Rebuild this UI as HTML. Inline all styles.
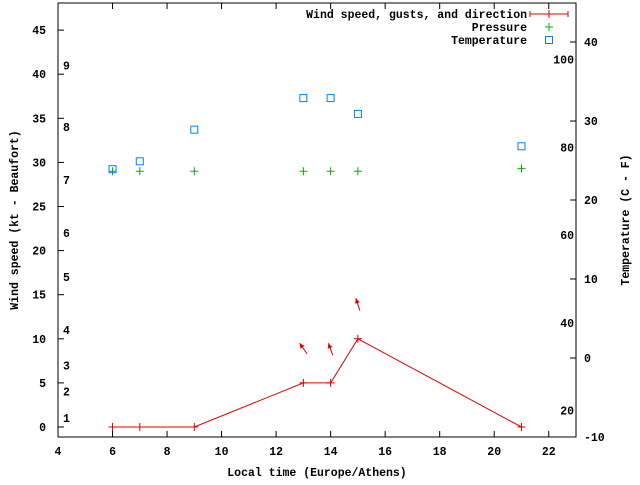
<!DOCTYPE html>
<html><head><meta charset="utf-8"><style>
body{margin:0;background:#fff}
svg text{font-family:"Liberation Mono","DejaVu Sans Mono",monospace;font-size:11.5px;font-weight:bold;fill:#000}
</style></head><body>
<svg id="c" width="640" height="480" viewBox="0 0 640 480" xmlns="http://www.w3.org/2000/svg"></svg>
<script>
const hours=[6,7,9,13,14,15,21];
const wind=[0,0,0,5,5,10,0];
const pressure=[29,29,29,29,29,29,29.3];
const temperature=[23.9,24.9,28.9,32.9,32.9,30.9,26.8];
const gustHours=[13,14,15];
const gusts=[9.5,9.5,14.6];
const gustDir=[35,20,18];
const xTicks=[4,6,8,10,12,14,16,18,20,22];
const yTicks=[0,5,10,15,20,25,30,35,40,45];
const tTicks=[-10,0,10,20,30,40];
const fTicks=[20,40,60,80,100];
const bftLabels=["1","2","3","4","5","6","7","8","9"];
const bftKt=[1,4,7,11,17,22,28,34,41];

const L=58,R=576,T=3,B=437;
const X=h=>L+(h-4)*(R-L)/19;
const Y=v=>427-v*8.82;
const TY=c=>B-(c+10)*7.9;
const svg=document.getElementById('c');
const NS='http://www.w3.org/2000/svg';
function mk(tag,a,parent){const e=document.createElementNS(NS,tag);for(const k in a)e.setAttribute(k,a[k]);(parent||svg).appendChild(e);return e;}

const border=mk('rect',{x:L,y:T,width:R-L,height:B-T,fill:'none',stroke:'#000','stroke-width':1});



xTicks.forEach(v=>{
 const t=mk('line',{x1:X(v),x2:X(v),y1:B,y2:B-6,stroke:'#000'});
 
 
 mk('line',{x1:X(v),x2:X(v),y1:T,y2:T+6,stroke:'#000'});
 const l=mk('text',{x:X(v),y:B+18,'text-anchor':'middle'});l.textContent=v;
 
 
});
yTicks.forEach(v=>{
 const t=mk('line',{x1:L,x2:L+6,y1:Y(v),y2:Y(v),stroke:'#000'});
 
 
 const l=mk('text',{x:L-12,y:Y(v)+4,'text-anchor':'end'});l.textContent=v;
 
 
});
tTicks.forEach(v=>{
 const t=mk('line',{x1:R-6,x2:R,y1:TY(v),y2:TY(v),stroke:'#000'});
 
 
 const l=mk('text',{x:R+8,y:TY(v)+4});l.textContent=v;
 
 
});
fTicks.forEach(v=>{
 const l=mk('text',{x:574,y:TY((v-32)/1.8)+4,'text-anchor':'end'});l.textContent=v;
 
 
});
bftLabels.forEach((s,i)=>{
 const l=mk('text',{x:63,y:Y(bftKt[i])+4});l.textContent=s;
 
 
});

const xt=mk('text',{x:317,y:476,'text-anchor':'middle'});xt.textContent='Local time (Europe/Athens)';


const yt=mk('text',{x:0,y:0,'text-anchor':'middle',transform:'translate(18,220) rotate(-90)'});yt.textContent='Wind speed (kt - Beaufort)';


const y2=mk('text',{x:0,y:0,'text-anchor':'middle',transform:'translate(629,220) rotate(-90)'});y2.textContent='Temperature (C - F)';



function plus(x,y,c,name){const g=mk('path',{d:`M${x-4},${y}H${x+4}M${x},${y-4}V${y+4}`,stroke:c,'stroke-width':1,fill:'none'});
 
 }

const wl=mk('polyline',{points:hours.map((h,i)=>X(h)+','+Y(wind[i])).join(' '),fill:'none',stroke:'#e00000','stroke-width':1});


hours.forEach((h,i)=>plus(X(h),Y(wind[i]),'#e00000','wind-point'));
gustHours.forEach((h,i)=>{
 const a=gustDir[i]*Math.PI/180,len=13;
 const hx=X(h)-len/2*Math.sin(a),hy=Y(gusts[i]);
 const tx=hx+len*Math.sin(a),ty=hy+len*Math.cos(a);
 const ln=mk('line',{x1:tx,y1:ty,x2:hx,y2:hy,stroke:'#e00000'});
 
 
 const ux=Math.sin(a),uy=Math.cos(a);
 const px=-uy,py=ux;
 const hd=mk('polygon',{points:`${hx},${hy} ${hx+5*ux+2.5*px},${hy+5*uy+2.5*py} ${hx+5*ux-2.5*px},${hy+5*uy-2.5*py}`,fill:'#e00000'});
 
 
});
hours.forEach((h,i)=>plus(X(h),Y(pressure[i]),'#00b000','pressure-point'));
hours.forEach((h,i)=>{
 const r=mk('rect',{x:X(h)-3.5,y:TY(temperature[i])-3.5,width:7,height:7,fill:'none',stroke:'#0080ff','stroke-width':1});
 
 
});

const leg=[['Wind speed, gusts, and direction','#e00000','bar'],['Pressure','#00b000','plus'],['Temperature','#0080ff','box']];
leg.forEach((e,i)=>{
 const y=14+i*13;
 const t=mk('text',{x:527,y:y+4,'text-anchor':'end'});t.textContent=e[0];
 
 
 if(e[2]=='bar'){mk('path',{d:`M530,${y}H568M530,${y-3}V${y+3}M568,${y-3}V${y+3}M549,${y-4}V${y+4}`,stroke:e[1],fill:'none'});}
 else if(e[2]=='plus')plus(549,y,e[1],'legend-pressure-marker');
 else mk('rect',{x:545.5,y:y-3.5,width:7,height:7,fill:'none',stroke:e[1]});
});
</script>
</body></html>
